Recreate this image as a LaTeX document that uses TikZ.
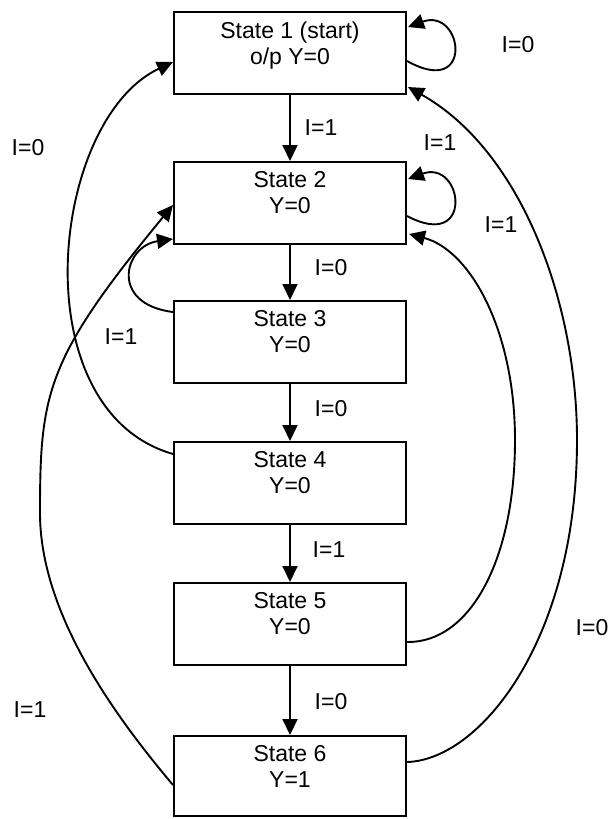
\documentclass[tikz,border=0pt]{standalone}
\usepackage{fontspec}
\setmainfont{Liberation Sans}
\usetikzlibrary{arrows.meta}
\begin{document}
\begin{tikzpicture}[x=1pt,y=-1pt,
  statebox/.style={draw, line width=2pt, minimum width=232pt, minimum height=82pt, inner sep=0pt},
  stext/.style={align=center, inner sep=0pt, anchor=north, font=\fontsize{23}{26}\selectfont},
  lbl/.style={inner sep=0pt, font=\fontsize{23}{26}\selectfont},
  conn/.style={line width=1.9pt, -{Triangle[length=16pt,width=15pt]}},
  curve/.style={line width=1.9pt, -{Triangle[length=16pt,width=15pt]}}]
\useasboundingbox (0,0) rectangle (610,819);
% boxes
\node[statebox] (s1) at (290,53) {};
\node[statebox] (s2) at (290,203) {};
\node[statebox] (s3) at (290,342) {};
\node[statebox] (s4) at (290,483) {};
\node[statebox] (s5) at (290,624) {};
\node[statebox, minimum height=80pt] (s6) at (290,776) {};
% texts
\node[stext] (t1) at ([yshift=-11pt]s1.north) {State 1 (start)\\o/p Y=0};
\node[stext] (t2) at ([yshift=-10pt]s2.north) {State 2\\Y=0};
\node[stext] (t3) at ([yshift=-10pt]s3.north) {State 3\\Y=0};
\node[stext] (t4) at ([yshift=-10pt]s4.north) {State 4\\Y=0};
\node[stext] (t5) at ([yshift=-10pt]s5.north) {State 5\\Y=0};
\node[stext] (t6) at ([yshift=-10pt]s6.north) {State 6\\Y=1};
% straight transitions
\draw[conn] (s1.south) -- (s2.north);
\draw[conn] (s2.south) -- (s3.north);
\draw[conn] (s3.south) -- (s4.north);
\draw[conn] (s4.south) -- (s5.north);
\draw[conn] (s5.south) -- (s6.north);
% self loops
\draw[curve] ([yshift=-50pt]s1.north east) .. controls +(68,38) and +(55,-20) .. ([xshift=1pt,yshift=-16pt]s1.north east);
\draw[curve] ([yshift=-55pt]s2.north east) .. controls +(68,36) and +(55,-20) .. ([xshift=1pt,yshift=-18pt]s2.north east);
% State 3 -> State 2 (left)
\draw[curve] ([yshift=-12pt]s3.north west) .. controls +(-64,-8) and +(-49,7) .. ([yshift=6pt]s2.south west);
% State 4 -> State 1 (left)
\draw[curve] ([yshift=-13pt]s4.north west) .. controls (20,410) and (50,120) .. ([yshift=-51pt]s1.north west);
% State 6 -> State 2 (left)
\draw[curve] ([yshift=-50pt]s6.north west) .. controls (114,715) and (40,613) .. (40,513)
   .. controls (40,393) and (46,359) .. ([yshift=-44pt]s2.north west);
% State 5 -> State 2 (right)
\draw[curve] ([yshift=-60pt]s5.north east) .. controls (470,643) and (515,560) .. (515,440)
   .. controls (515,330) and (470,250) .. ([xshift=2pt,yshift=-73pt]s2.north east);
% State 6 -> State 1 (right)
\draw[curve] ([yshift=-27pt]s6.north east) .. controls (480,760) and (577,640) .. (577,440)
   .. controls (577,300) and (520,150) .. ([xshift=1pt,yshift=8pt]s1.south east);
% labels
\node[lbl] (l1) at (518,45) {I=0};
\node[lbl] (l2) at (321,128) {I=1};
\node[lbl] (l3) at (440,143) {I=1};
\node[lbl] (l4) at (501,225) {I=1};
\node[lbl] (l5) at (331,268) {I=0};
\node[lbl] (l6) at (121,337) {I=1};
\node[lbl] (l7) at (331,409) {I=0};
\node[lbl] (l8) at (329,550) {I=1};
\node[lbl] (l9) at (331,702) {I=0};
\node[lbl] (l10) at (592,628) {I=0};
\node[lbl] (l11) at (28,148) {I=0};
\node[lbl] (l12) at (30,710) {I=1};
\end{tikzpicture}
\end{document}
